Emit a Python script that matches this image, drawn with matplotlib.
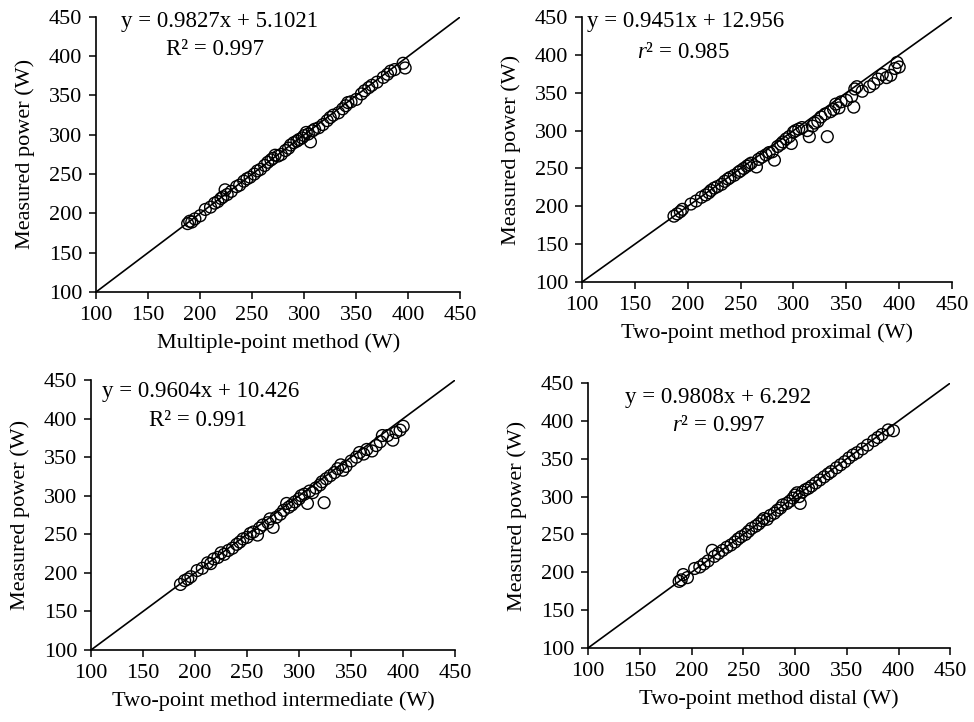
import matplotlib.pyplot as plt

plt.rcParams["font.family"] = ["Liberation Serif", "DejaVu Serif"]
plt.rcParams["mathtext.fontset"] = "custom"
plt.rcParams["mathtext.rm"] = "Liberation Serif"
plt.rcParams["mathtext.it"] = "Liberation Serif:italic"

# panel 1: multiple-point method
multi_x = [188, 190, 192, 195, 200, 205, 210, 214, 217, 220, 222, 224, 226, 230,
           235, 238, 242, 245, 248, 252, 255, 258, 262, 265, 268, 270, 272, 275,
           278, 282, 285, 287, 290, 293, 295, 298, 300, 302, 304, 306, 308, 310,
           314, 318, 322, 325, 328, 333, 337, 340, 342, 345, 350, 355, 358, 362,
           365, 370, 376, 380, 383, 387, 395, 397]
multi_y = [187, 190, 189, 193, 197, 205, 208, 213, 215, 219, 221, 230, 224, 228,
           234, 236, 241, 244, 246, 250, 254, 256, 261, 265, 268, 270, 274, 273,
           275, 280, 283, 287, 290, 292, 294, 296, 299, 303, 301, 291, 305, 307,
           309, 313, 318, 322, 325, 328, 333, 337, 341, 342, 345, 352, 356, 360,
           363, 367, 373, 377, 381, 383, 391, 385]

# panel 2: two-point proximal
prox_x = [187, 190, 193, 195, 203, 208, 213, 217, 220, 222, 225, 228, 232, 235,
          238, 240, 244, 248, 250, 253, 256, 258, 260, 265, 267, 270, 274, 277,
          280, 282, 285, 288, 290, 293, 296, 298, 300, 302, 305, 308, 313, 315,
          318, 320, 323, 326, 330, 332, 335, 338, 340, 343, 345, 350, 355, 357,
          358, 360, 365, 372, 376, 380, 384, 388, 392, 396, 400, 398]
prox_y = [187, 190, 193, 196, 203, 207, 212, 215, 218, 221, 224, 226, 229, 233,
          236, 238, 241, 245, 247, 250, 253, 255, 257, 252, 262, 265, 268, 271,
          272, 261, 279, 282, 285, 289, 292, 283, 298, 300, 302, 304, 300, 292,
          306, 310, 312, 318, 322, 292, 325, 328, 335, 330, 338, 340, 345, 331,
          355, 358, 352, 358, 362, 368, 374, 370, 373, 382, 384, 390]

# panel 3: two-point intermediate
inter_x = [186, 190, 193, 196, 202, 207, 212, 215, 218, 222, 225, 228, 232, 236,
           240, 243, 246, 250, 253, 256, 260, 262, 265, 270, 272, 275, 278, 282,
           285, 288, 290, 293, 296, 300, 302, 305, 308, 310, 313, 316, 320, 322,
           324, 326, 330, 334, 337, 340, 342, 345, 350, 355, 358, 362, 365, 370,
           374, 378, 380, 385, 390, 393, 397, 400]
inter_y = [185, 190, 192, 195, 203, 206, 213, 212, 218, 220, 226, 224, 229, 232,
           237, 240, 244, 246, 251, 253, 249, 258, 262, 265, 270, 259, 272, 276,
           281, 290, 285, 288, 292, 296, 300, 302, 290, 306, 304, 310, 314, 318,
           291, 322, 326, 330, 335, 340, 333, 338, 345, 350, 356, 354, 360, 358,
           365, 370, 378, 378, 372, 382, 385, 390]

# panel 4: two-point distal
dist_x = [188, 190, 192, 196, 203, 208, 212, 216, 220, 222, 226, 230, 234, 238,
          242, 245, 248, 252, 255, 258, 262, 265, 268, 270, 273, 276, 280, 283,
          286, 288, 292, 295, 298, 300, 302, 304, 305, 307, 310, 313, 316, 320,
          324, 328, 332, 335, 340, 344, 348, 352, 356, 360, 365, 370, 376, 380,
          384, 390, 395]
dist_y = [188, 190, 197, 193, 205, 207, 211, 215, 229, 221, 225, 229, 233, 236,
          240, 244, 247, 250, 254, 258, 261, 264, 268, 271, 270, 275, 278, 282,
          285, 289, 291, 294, 298, 302, 305, 300, 291, 306, 309, 311, 314, 318,
          322, 326, 330, 333, 338, 342, 346, 351, 355, 358, 363, 368, 374, 378,
          382, 388, 387]

xlabels = ["Multiple-point method (W)", "Two-point method proximal (W)",
           "Two-point method intermediate (W)", "Two-point method distal (W)"]
equations = ["y = 0.9827x + 5.1021", "y = 0.9451x + 12.956",
             "y = 0.9604x + 10.426", "y = 0.9808x + 6.292"]
fits = ["R² = 0.997", "$\\mathit{r}$² = 0.985", "R² = 0.991", "$\\mathit{r}$² = 0.997"]
identity = [100, 450]
ticks = [100, 150, 200, 250, 300, 350, 400, 450]

xs = [multi_x, prox_x, inter_x, dist_x]
ys = [multi_y, prox_y, inter_y, dist_y]

# axes rectangles (left, bottom, width, height) in figure fraction
rects = [(0.0986, 0.5956, 0.374, 0.381),
         (0.5975, 0.6094, 0.380, 0.367),
         (0.0934, 0.0997, 0.374, 0.374),
         (0.6037, 0.1025, 0.372, 0.367)]
eq_pos = [((0.34, 0.985), (0.327, 0.88)),
          ((0.28, 0.985), (0.275, 0.868)),
          ((0.30, 0.956), (0.295, 0.85)),
          ((0.359, 0.947), (0.359, 0.84))]

fig = plt.figure(figsize=(9.74, 7.22), dpi=100)

for i in range(4):
    ax = fig.add_axes(rects[i])
    ax.plot(identity, identity, color="black", linewidth=1.2, zorder=1)
    ax.scatter(xs[i], ys[i], s=72, facecolors="none", edgecolors="black",
               linewidths=1.0, zorder=2)
    ax.set_xlim(100, 450)
    ax.set_ylim(100, 450)
    ax.set_xticks(ticks)
    ax.set_yticks(ticks)
    ax.spines["top"].set_visible(False)
    ax.spines["right"].set_visible(False)
    for s in ["left", "bottom"]:
        ax.spines[s].set_linewidth(1.2)
    ax.tick_params(direction="out", length=5, width=1.1, labelsize=16, pad=5)
    ax.set_xlabel(xlabels[i], fontsize=16, labelpad=6)
    ax.set_ylabel("Measured power (W)", fontsize=16, labelpad=10)
    (x1, y1), (x2, y2) = eq_pos[i]
    ax.text(x1, y1, equations[i], transform=ax.transAxes, ha="center",
            va="center", fontsize=16.5)
    ax.text(x2, y2, fits[i], transform=ax.transAxes, ha="center",
            va="center", fontsize=16.5)

fig.savefig("out.png", dpi=100)
